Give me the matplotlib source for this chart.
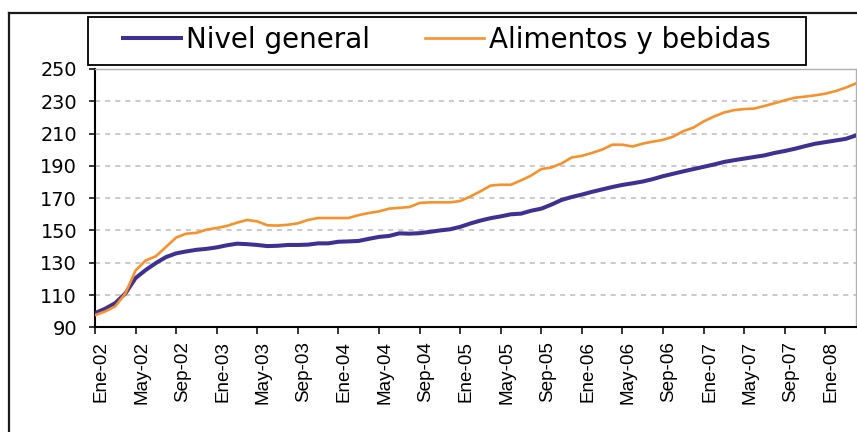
import matplotlib
matplotlib.use('Agg')
import matplotlib.pyplot as plt
import matplotlib.transforms as mtransforms
from matplotlib.lines import Line2D
from matplotlib.patches import Rectangle
import numpy as np

plt.rcParams['font.family'] = ['DejaVu Sans']

# ---------------- data ----------------
meses = ['Ene', 'Feb', 'Mar', 'Abr', 'May', 'Jun', 'Jul', 'Ago', 'Sep', 'Oct', 'Nov', 'Dic']
anios = ['02', '03', '04', '05', '06', '07', '08']
categories = [f"{m}-{a}" for a in anios for m in meses][:76]   # Ene-02 .. Abr-08

nivel_general = [98.8, 101.5, 105.0, 111.0, 120.5, 125.5, 129.8, 133.5, 135.8, 137.0,
                 138.0, 138.6, 139.5, 140.8, 141.8, 141.5, 141.0, 140.3, 140.5, 141.0,
                 141.0, 141.2, 142.0, 142.0, 143.0, 143.2, 143.5, 144.8, 146.0, 146.6,
                 148.2, 148.0, 148.3, 149.1, 150.0, 150.7, 152.2, 154.3, 156.1, 157.6,
                 158.7, 160.0, 160.4, 162.2, 163.5, 166.0, 168.9, 170.7, 172.2, 173.9,
                 175.4, 176.9, 178.2, 179.2, 180.3, 181.8, 183.6, 185.1, 186.6, 188.0,
                 189.4, 190.8, 192.4, 193.5, 194.5, 195.5, 196.5, 198.0, 199.2, 200.6,
                 202.2, 203.7, 204.7, 205.7, 206.7, 208.8]

alimentos = [97.5, 99.8, 103.0, 111.0, 125.2, 131.4, 134.0, 139.8, 145.6, 148.0,
             148.5, 150.5, 151.5, 152.8, 154.8, 156.5, 155.6, 153.2, 153.0, 153.5,
             154.4, 156.5, 157.7, 157.7, 157.7, 157.7, 159.5, 160.8, 161.8, 163.5,
             164.0, 164.5, 167.0, 167.4, 167.4, 167.4, 168.2, 171.0, 174.2, 177.8,
             178.3, 178.3, 181.0, 184.0, 188.0, 189.0, 191.5, 195.2, 196.2, 198.0,
             200.1, 203.1, 203.1, 202.0, 203.8, 205.0, 206.1, 208.1, 211.5, 213.7,
             217.5, 220.5, 223.0, 224.5, 225.2, 225.5, 227.1, 228.8, 230.6, 232.2,
             232.9, 233.7, 234.7, 236.3, 238.4, 241.0]

series_labels = ['Nivel general', 'Alimentos y bebidas']
y_ticks = [90, 110, 130, 150, 170, 190, 210, 230, 250]
tick_step = 4

# ---------------- figure ----------------
W, H = 857, 432
fig = plt.figure(figsize=(W / 100, H / 100), dpi=100)
fig.patch.set_facecolor('white')

ax_left, ax_right, ax_top, ax_bottom = 95, 855.7, 69, 327.3
ax = fig.add_axes([ax_left / W, 1 - ax_bottom / H, (ax_right - ax_left) / W, (ax_bottom - ax_top) / H])

x = np.arange(len(categories))
l1, = ax.plot(x, nivel_general, color='#3F3194', lw=2.9, zorder=3, label=series_labels[0])
l2, = ax.plot(x, alimentos, color='#F7912C', lw=1.9, zorder=4, label=series_labels[1])

ax.set_xlim(0, len(categories) - 1)
ax.set_ylim(y_ticks[0], y_ticks[-1])
ax.set_yticks(y_ticks)
ax.set_yticklabels([str(v) for v in y_ticks])
ax.set_xticks(x[::tick_step])
ax.set_xticklabels(categories[::tick_step], rotation=90, fontfamily='Liberation Sans')

ax.yaxis.grid(True, color='#C6C6C6', linestyle=(0, (2.8, 2.8)), lw=1.3, zorder=1)
ax.set_axisbelow(True)

for s in ['left', 'bottom']:
    ax.spines[s].set_color('black')
    ax.spines[s].set_linewidth(1.5)
for s in ['top', 'right']:
    ax.spines[s].set_color('#B0B0B0')
    ax.spines[s].set_linewidth(1.0)

ax.tick_params(axis='y', direction='out', length=4.3, width=1.1, pad=8.6, labelsize=13.9, colors='black')
ax.tick_params(axis='x', direction='out', length=5, width=1.1, pad=5, labelsize=13.6, colors='black')

offset = mtransforms.ScaledTranslation(6 / 100, 0, fig.dpi_scale_trans)
for lab in ax.get_xticklabels():
    lab.set_transform(lab.get_transform() + offset)

# ---------------- legend ----------------
lx0, lx1, ly0, ly1 = 87.7, 806, 17, 65
rect = Rectangle((lx0 / W, 1 - ly1 / H), (lx1 - lx0) / W, (ly1 - ly0) / H,
                 transform=fig.transFigure, facecolor='white', edgecolor='black', lw=1.3, zorder=5)
fig.add_artist(rect)
leg = fig.legend([l1, l2], series_labels, loc='center',
                 bbox_to_anchor=((lx0 + lx1) / 2 / W, 1 - 40 / H),
                 ncol=2, frameon=False, fontsize=20, handlelength=2.09,
                 handletextpad=0.18, columnspacing=1.98, borderpad=0.1)
leg.set_zorder(6)

# ---------------- outer frame ----------------
fig.add_artist(Line2D([9 / W, 9 / W], [0, 1 - 12.5 / H], transform=fig.transFigure,
                      color='#1a1a1a', lw=1.6))
fig.add_artist(Line2D([9 / W, 1], [1 - 12.5 / H, 1 - 12.5 / H], transform=fig.transFigure,
                      color='#1a1a1a', lw=1.6))

fig.savefig('out.png', dpi=100, facecolor='white')
